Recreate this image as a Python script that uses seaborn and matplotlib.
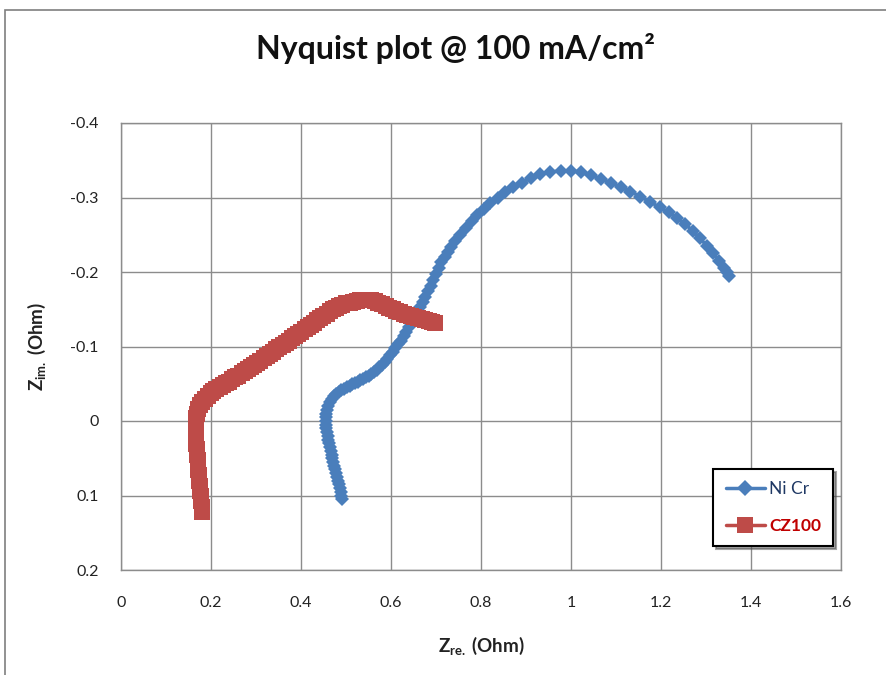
import matplotlib
matplotlib.use('Agg')
import matplotlib.pyplot as plt
from matplotlib.lines import Line2D
from matplotlib.patches import Rectangle
from matplotlib.ticker import FuncFormatter
import seaborn as sns
import pandas as pd

# Ni Cr impedance (Z real, Z imag) in Ohm
nicr_zre = [0.492, 0.490, 0.488, 0.486, 0.484, 0.482, 0.480, 0.478, 0.476, 0.474,
            0.472, 0.470, 0.468, 0.466, 0.464, 0.462, 0.460, 0.459, 0.457, 0.456,
            0.455, 0.455, 0.455, 0.456, 0.458, 0.461, 0.464, 0.468, 0.473, 0.478,
            0.484, 0.490, 0.496, 0.502, 0.508, 0.514, 0.520, 0.526, 0.532, 0.538,
            0.544, 0.550, 0.556, 0.562, 0.568, 0.574, 0.580, 0.586, 0.592, 0.598,
            0.604, 0.610, 0.616, 0.622, 0.628, 0.634, 0.640, 0.646, 0.652, 0.658,
            0.664, 0.670, 0.676, 0.682, 0.688, 0.694, 0.700, 0.706, 0.712, 0.719,
            0.726, 0.733, 0.743, 0.754, 0.766, 0.779, 0.792, 0.806, 0.821, 0.837,
            0.854, 0.872, 0.891, 0.911, 0.932, 0.954, 0.977, 1.000, 1.022, 1.044,
            1.066, 1.088, 1.110, 1.132, 1.154, 1.176, 1.197, 1.217, 1.236, 1.254,
            1.271, 1.287, 1.302, 1.316, 1.329, 1.339, 1.347, 1.352]
nicr_zim = [0.105, 0.100, 0.095, 0.090, 0.085, 0.080, 0.075, 0.070, 0.065, 0.060,
            0.055, 0.050, 0.045, 0.040, 0.035, 0.030, 0.025, 0.020, 0.015, 0.010,
            0.005, 0.000, -0.005, -0.010, -0.015, -0.020, -0.025, -0.029, -0.033, -0.036,
            -0.039, -0.041, -0.043, -0.045, -0.047, -0.049, -0.051, -0.053, -0.055, -0.057,
            -0.059, -0.061, -0.063, -0.066, -0.069, -0.072, -0.075, -0.079, -0.083, -0.088,
            -0.093, -0.098, -0.103, -0.108, -0.114, -0.120, -0.126, -0.132, -0.139, -0.146,
            -0.153, -0.160, -0.167, -0.174, -0.181, -0.189, -0.197, -0.205, -0.213, -0.220,
            -0.227, -0.233, -0.241, -0.250, -0.259, -0.268, -0.276, -0.284, -0.292, -0.300,
            -0.307, -0.314, -0.320, -0.326, -0.331, -0.334, -0.336, -0.336, -0.334, -0.330,
            -0.325, -0.320, -0.314, -0.308, -0.301, -0.294, -0.287, -0.280, -0.272, -0.264,
            -0.255, -0.245, -0.235, -0.225, -0.215, -0.206, -0.200, -0.195]

# CZ100 impedance (Z real, Z imag) in Ohm
cz_zre = [0.180, 0.179, 0.178, 0.177, 0.176, 0.175, 0.174, 0.173, 0.172, 0.171,
          0.170, 0.169, 0.168, 0.167, 0.167, 0.166, 0.166, 0.166, 0.167, 0.169,
          0.172, 0.176, 0.181, 0.187, 0.193, 0.199, 0.205, 0.212, 0.219, 0.226,
          0.233, 0.240, 0.247, 0.254, 0.261, 0.268, 0.275, 0.282, 0.289, 0.296,
          0.303, 0.310, 0.317, 0.324, 0.331, 0.338, 0.345, 0.352, 0.359, 0.366,
          0.373, 0.380, 0.387, 0.394, 0.401, 0.408, 0.415, 0.422, 0.429, 0.436,
          0.443, 0.450, 0.457, 0.464, 0.471, 0.478, 0.485, 0.492, 0.500, 0.508,
          0.516, 0.524, 0.532, 0.540, 0.548, 0.556, 0.564, 0.572, 0.580, 0.588,
          0.596, 0.604, 0.612, 0.620, 0.628, 0.636, 0.644, 0.652, 0.660, 0.668,
          0.676, 0.684, 0.692, 0.697]
cz_zim = [0.122, 0.115, 0.108, 0.101, 0.094, 0.087, 0.080, 0.073, 0.066, 0.059,
          0.052, 0.045, 0.038, 0.031, 0.024, 0.017, 0.010, 0.003, -0.004, -0.010,
          -0.016, -0.021, -0.026, -0.030, -0.034, -0.037, -0.040, -0.043, -0.046, -0.048,
          -0.051, -0.053, -0.056, -0.059, -0.061, -0.064, -0.067, -0.070, -0.073, -0.075,
          -0.078, -0.081, -0.084, -0.087, -0.090, -0.093, -0.096, -0.099, -0.102, -0.105,
          -0.108, -0.111, -0.114, -0.117, -0.120, -0.123, -0.126, -0.129, -0.132, -0.135,
          -0.138, -0.141, -0.144, -0.147, -0.150, -0.152, -0.154, -0.156, -0.158, -0.159,
          -0.160, -0.161, -0.162, -0.162, -0.162, -0.162, -0.161, -0.159, -0.157, -0.155,
          -0.152, -0.150, -0.148, -0.146, -0.144, -0.142, -0.141, -0.139, -0.138, -0.137,
          -0.136, -0.134, -0.133, -0.132]

assert len(nicr_zre) == len(nicr_zim) and len(cz_zre) == len(cz_zim)

nicr = pd.DataFrame({'zre': nicr_zre, 'zim': nicr_zim})
cz = pd.DataFrame({'zre': cz_zre, 'zim': cz_zim})

blue = '#4A7EBB'
red = '#BE4B48'
grid_col = '#8C8C8C'

sns.set_style('white')
plt.rcParams['font.family'] = ['Lato', 'DejaVu Sans']
plt.rcParams['axes.unicode_minus'] = False
plt.rcParams['mathtext.fontset'] = 'custom'
plt.rcParams['mathtext.rm'] = 'Lato'
plt.rcParams['mathtext.it'] = 'Lato:italic'
plt.rcParams['mathtext.bf'] = 'Lato:bold'

fig = plt.figure(figsize=(8.87, 6.75), dpi=100)
ax = fig.add_axes([121 / 887, 1 - 570 / 675, 720 / 887, 447 / 675])

# estimator=None keeps every point in order (no aggregation by x)
sns.lineplot(data=nicr, x='zre', y='zim', sort=False, estimator=None, ax=ax,
             color=blue, lw=2.5, marker='D', markersize=7.5, markeredgewidth=0, zorder=3)
sns.lineplot(data=cz, x='zre', y='zim', sort=False, estimator=None, ax=ax,
             color=red, lw=2.5, marker='s', markersize=11, markeredgewidth=0, zorder=4)

ax.set_xlim(0, 1.6)
ax.set_ylim(0.2, -0.4)
ax.set_xticks([0, 0.2, 0.4, 0.6, 0.8, 1, 1.2, 1.4, 1.6])
ax.set_yticks([-0.4, -0.3, -0.2, -0.1, 0, 0.1, 0.2])
fmt = FuncFormatter(lambda v, p: '%g' % round(v, 2))
ax.xaxis.set_major_formatter(fmt)
ax.yaxis.set_major_formatter(fmt)
ax.tick_params(axis='both', labelsize=11.5, colors='#222222', length=0)
ax.tick_params(axis='x', pad=19)
ax.tick_params(axis='y', pad=16)
ax.grid(True, color=grid_col, lw=1)
for s in ax.spines.values():
    s.set_color(grid_col)
    s.set_linewidth(1)

ax.set_xlabel(r'Z$_{\mathbf{re.}}$ (Ohm)', fontsize=13.5, fontweight='bold',
              color='#222222', labelpad=18)
ax.set_ylabel(r'Z$_{\mathbf{im.}}$ (Ohm)', fontsize=13.5, fontweight='bold',
              color='#222222', labelpad=16)
fig.text(0.513, 0.928, 'Nyquist plot @ 100 mA/cm²', ha='center', va='center',
         fontsize=23, fontweight='bold', color='#111111')

handles = [
    Line2D([], [], color=blue, lw=2.5, marker='D', markersize=8, markeredgewidth=0),
    Line2D([], [], color=red, lw=2.5, marker='s', markersize=11, markeredgewidth=0),
]
leg = ax.legend(handles, ['Ni Cr', 'CZ100'], loc='lower right',
                bbox_to_anchor=(0.989, 0.054), frameon=True, fancybox=False,
                shadow=True, fontsize=12.5, handlelength=2.3, labelspacing=1.2,
                borderpad=0.7, handletextpad=0.2, borderaxespad=0)
leg.get_frame().set_edgecolor('black')
leg.get_frame().set_linewidth(1.5)
leg.get_texts()[0].set_color('#1F3864')
leg.get_texts()[1].set_color('#C00000')
leg.get_texts()[1].set_fontweight('bold')

# chart border
fig.patches.append(Rectangle((5 / 887, -0.1), 1.2, 1 - 10 / 675 + 0.1,
                             transform=fig.transFigure, fill=False,
                             edgecolor='#7F7F7F', lw=1.2))

fig.savefig('out.png', dpi=100)
